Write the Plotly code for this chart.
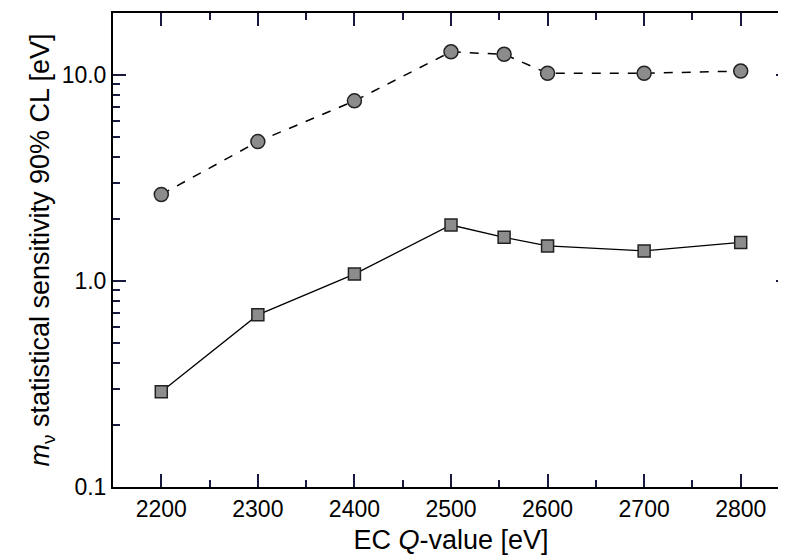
import plotly.graph_objects as go

q_values = [2200, 2300, 2400, 2500, 2555, 2600, 2700, 2800]
sens_upper = [2.63, 4.75, 7.49, 12.96, 12.6, 10.2, 10.2, 10.45]
sens_lower = [0.29, 0.685, 1.08, 1.87, 1.63, 1.48, 1.40, 1.54]

x_tick_start, x_tick_step, x_minor_step = 2200, 100, 50
y_tick_format = ".1f"

FONT = "Liberation Sans, Arial, sans-serif"
X_RANGE = [2150, 2850]
Y_RANGE = [-1, 1.30103]
TICK_COLOR = "#1a1a40"

fig = go.Figure()
fig.add_trace(go.Scatter(
    x=q_values, y=sens_upper, mode="lines+markers",
    line=dict(color="black", width=1.5, dash="dash"),
    marker=dict(symbol="circle", size=14, color="#8c8c8c",
                line=dict(color="#222222", width=1.5))))
fig.add_trace(go.Scatter(
    x=q_values, y=sens_lower, mode="lines+markers",
    line=dict(color="black", width=1.3),
    marker=dict(symbol="square", size=12, color="#8c8c8c",
                line=dict(color="#222222", width=1.5))))

fig.update_layout(
    width=786, height=557,
    margin=dict(l=105, r=3, t=3, b=78),
    template="simple_white", showlegend=False,
    font=dict(family=FONT, size=23, color="black"),
    xaxis=dict(
        range=X_RANGE, tickmode="linear", tick0=x_tick_start, dtick=x_tick_step,
        ticks="inside", ticklen=13, tickwidth=2, tickcolor=TICK_COLOR,
        showline=True, linecolor="black", linewidth=2, mirror="allticks",
        showgrid=False, zeroline=False, tickfont=dict(family=FONT, size=23),
        minor=dict(dtick=x_minor_step, tick0=x_tick_start, ticks="inside",
                   ticklen=7, tickwidth=2, tickcolor=TICK_COLOR),
        title=dict(text="EC <i>Q</i>-value [eV]", font=dict(family=FONT, size=27),
                   standoff=10),
    ),
    yaxis=dict(
        type="log", range=Y_RANGE, dtick=1, tickformat=y_tick_format,
        ticks="inside", ticklen=13, tickwidth=2, tickcolor=TICK_COLOR,
        showline=True, linecolor="black", linewidth=2, mirror="allticks",
        showgrid=False, zeroline=False, tickfont=dict(family=FONT, size=23),
        minor=dict(dtick="D1", ticks="inside", ticklen=7, tickwidth=2,
                   tickcolor=TICK_COLOR),
        title=dict(text="<i>m</i><sub>ν</sub> statistical sensitivity 90% CL [eV]",
                   font=dict(family=FONT, size=27), standoff=4),
    ),
)

fig.write_html("out.html")
